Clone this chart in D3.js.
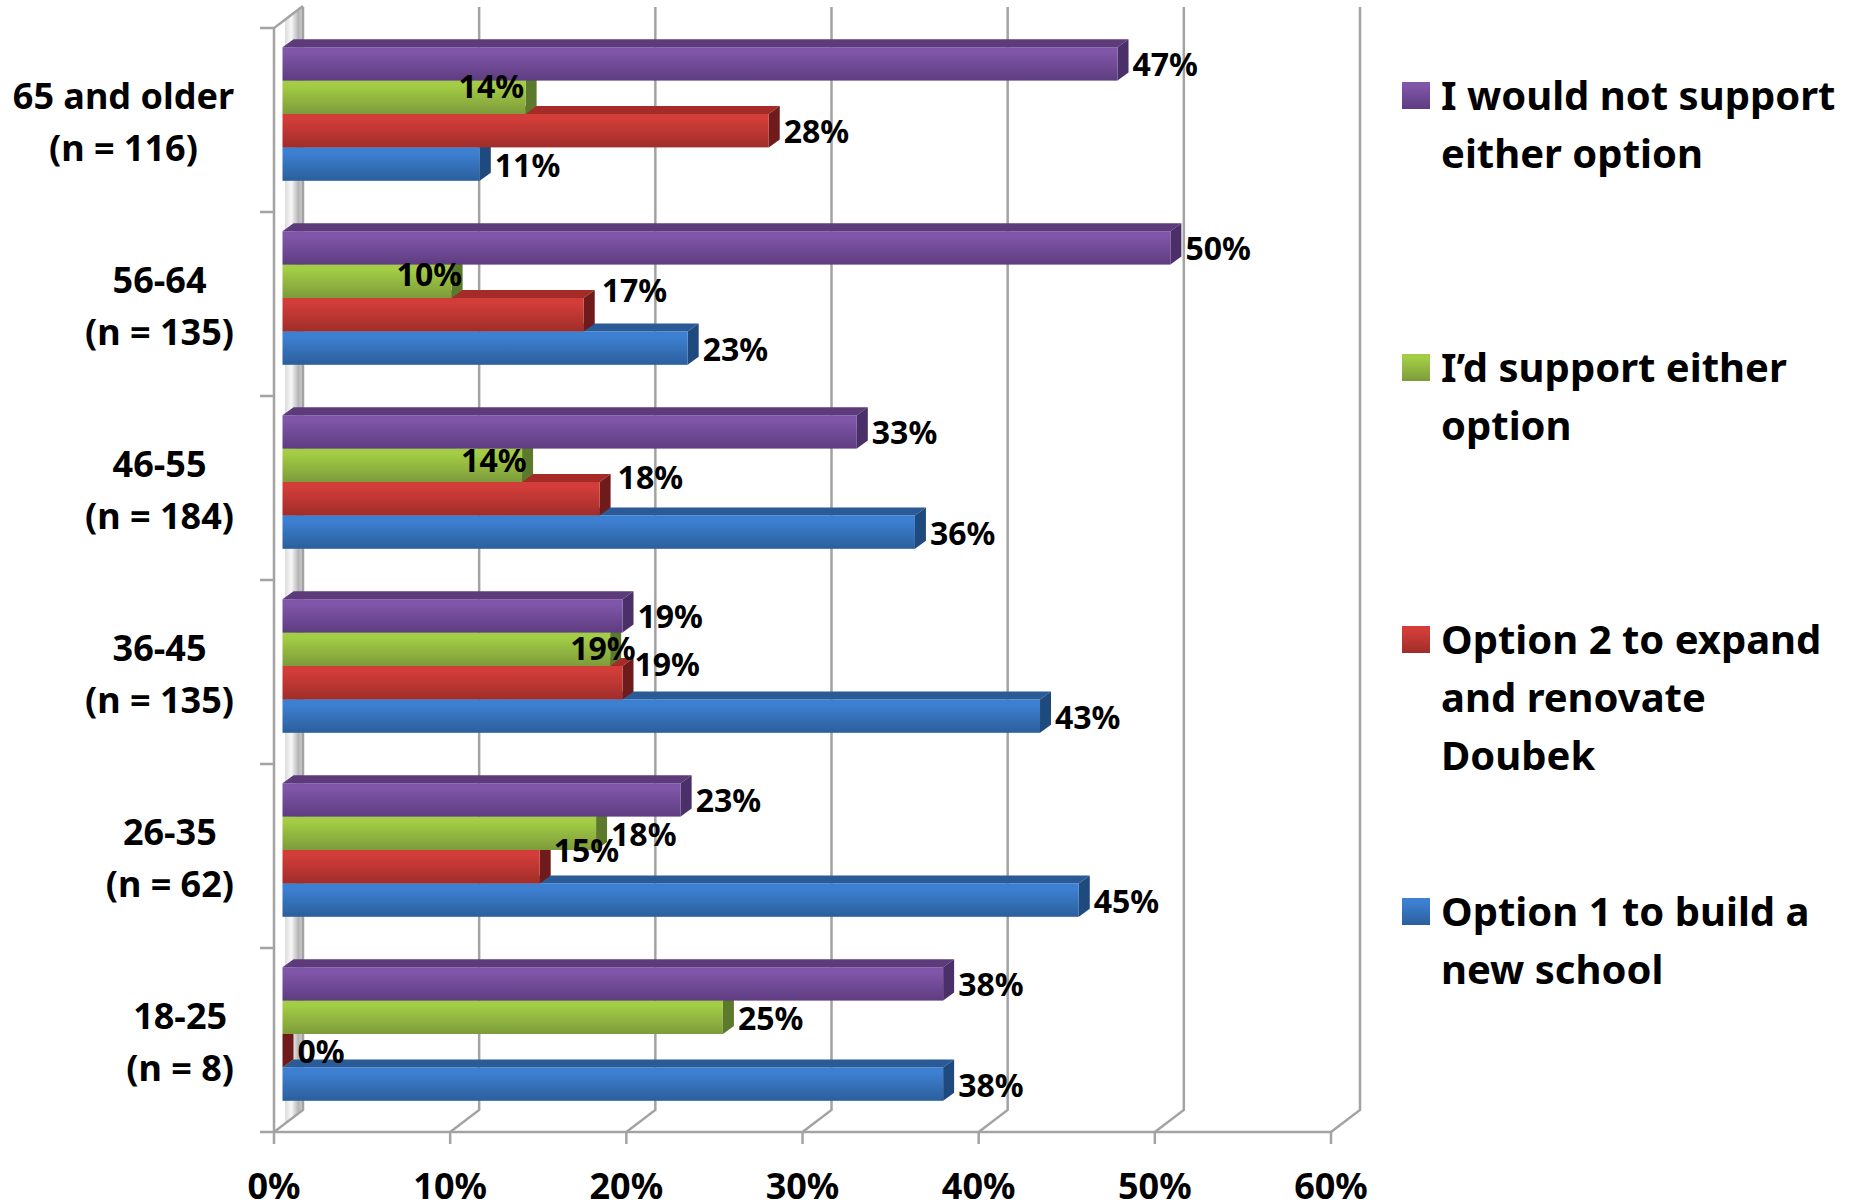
<!DOCTYPE html>
<html><head><meta charset="utf-8">
<script src="https://cdn.jsdelivr.net/npm/d3@7"></script>
<style>html,body{margin:0;padding:0;background:#fff}svg{display:block}
text{font-family:"Noto Sans",sans-serif;font-weight:700;fill:#000}</style></head>
<body><svg id="c" width="1858" height="1203"></svg>
<script>
const categories = ["65 and older","56-64","46-55","36-45","26-35","18-25"];
const categorySizes = ["(n = 116)","(n = 135)","(n = 184)","(n = 135)","(n = 62)","(n = 8)"];
const seriesNames = ["I would not support either option","I’d support either option","Option 2 to expand and renovate Doubek","Option 1 to build a new school"];
const notSupport = [47.4,50.4,32.6,19.3,22.6,37.5];
const eitherOption = [13.8,9.6,13.6,18.6,17.8,25.0];
const option2 = [27.6,17.1,18.0,19.3,14.6,0];
const option1 = [11.2,23.0,35.9,43.0,45.2,37.5];
const axisTicks = [0,10,20,30,40,50,60];
const legendLines = [["I would not support","either option"],["I’d support either","option"],["Option 2 to expand","and renovate","Doubek"],["Option 1 to build a","new school"]];

const allValues = [notSupport,eitherOption,option2,option1];
const palette = [
 {t:"#7f56a9",b:"#5e3c80",top:"#5d3b7b",side:"#4a2f68"},
 {t:"#a3cd45",b:"#7d9b3b",top:"#6a8a30",side:"#5c7a2b"},
 {t:"#d23d39",b:"#a02d2a",top:"#a52b28",side:"#701b1b"},
 {t:"#3d80d2",b:"#2b5f9c",top:"#2b5b97",side:"#1f4a7d"}];
// label nudges relative to the default place beside a bar [group, series, dx, dy]
const nudges = [[0,1,-82,-12],[1,1,-70,-8],[1,2,3,-25],[2,1,-76,-6],[2,2,3,-22],[3,1,-55,-2],[3,2,-3,-19],[4,2,-1,-17]];

const svg = d3.select("#c");
const defs = svg.append("defs");
palette.forEach((p,i)=>{
  const g = defs.append("linearGradient").attr("id","g"+i).attr("x1",0).attr("x2",0).attr("y1",0).attr("y2",1);
  g.append("stop").attr("offset","15%").attr("stop-color",p.t);
  g.append("stop").attr("offset","100%").attr("stop-color",p.b);
});
const wg = defs.append("linearGradient").attr("id","wall").attr("x1",0).attr("x2",1).attr("y1",0).attr("y2",0);
wg.append("stop").attr("offset","0%").attr("stop-color","#dcdcdc");
wg.append("stop").attr("offset","35%").attr("stop-color","#f8f8f8");
wg.append("stop").attr("offset","75%").attr("stop-color","#b4b4b4");
wg.append("stop").attr("offset","100%").attr("stop-color","#d4d4d4");

const X0 = 274, depthX = 29, depthY = 22, floorY = 1132, topY = 28;
const x = d3.scaleLinear().domain([0,60]).range([X0, X0+1057]);
const y = d3.scaleBand().domain(categories).range([topY, floorY]);
const gridColor = "#a3a3a3";

// side wall
svg.append("path").attr("d",`M${X0+11},${topY-8}L${X0+depthX},${topY-depthY}V${floorY-depthY}L${X0+11},${floorY-8}Z`).attr("fill","url(#wall)");

// gridlines on back wall and floor
const grid = svg.append("g").attr("stroke",gridColor).attr("stroke-width",2.5).attr("fill","none");
axisTicks.forEach(t=>{
  grid.append("path").attr("d",`M${x(t)},${floorY}L${x(t)+depthX},${floorY-depthY}V${topY-depthY+1}`);
});
grid.append("path").attr("d",`M${X0},${floorY}V${topY}L${X0+depthX},${topY-depthY}`);
grid.append("path").attr("d",`M${X0-14},${floorY}H${x(60)}`);
y.domain().forEach(c=>grid.append("path").attr("d",`M${X0-14},${y(c)}H${X0}`));
axisTicks.forEach(t=>grid.append("path").attr("d",`M${x(t)},${floorY}v12`));

// bars
const barH = 33.4, bx = 11, by = 8, barStart = 8.5, groupPad = 19.2;
const w = v => x(v)-x(0);
const bars = svg.append("g");
categories.forEach((c,gi)=>{
  for(let s=3;s>=0;s--){
    const v = allValues[s][gi], L = X0+barStart, R = L+w(v), T = y(c)+groupPad+s*barH, p = palette[s];
    const g = bars.append("g");
    g.append("path").attr("d",`M${L},${T}l${bx},${-by}H${R+bx}l${-bx},${by}Z`).attr("fill",p.top);
    g.append("path").attr("d",`M${R},${T}l${bx},${-by}v${barH}l${-bx},${by}Z`).attr("fill",p.side);
    if(v>0) g.append("rect").attr("x",L).attr("y",T).attr("width",R-L).attr("height",barH).attr("fill",`url(#g${s})`);
  }
});

// value labels
const labels = svg.append("g").attr("font-size",32);
categories.forEach((c,gi)=>{
  for(let s=0;s<4;s++){
    const v = allValues[s][gi], n = nudges.find(a=>a[0]===gi&&a[1]===s)||[0,0,0,0];
    const T = y(c)+groupPad+s*barH;
    labels.append("text").attr("x",X0+barStart+w(v)+bx+4+n[2]).attr("y",T+barH/2+n[3])
      .attr("dominant-baseline","central").text(d3.format(".0f")(v)+"%");
  }
});

// x tick labels
svg.append("g").attr("font-size",36).selectAll("text").data(axisTicks).join("text")
  .attr("x",d=>x(d)).attr("y",1185).attr("text-anchor","middle").attr("dominant-baseline","central").text(d=>d+"%");

// category labels
const catRight = 234, catLead = 54;
categories.forEach((c,i)=>{
  const g = svg.append("g").attr("font-size",36);
  const a = g.append("text").text(c).attr("text-anchor","middle");
  const b = g.append("text").text(categorySizes[i]).attr("text-anchor","middle");
  const mw = Math.max(a.node().getComputedTextLength(), b.node().getComputedTextLength());
  const cy = y(c)+y.bandwidth()/2+1, cx = catRight-mw/2;
  a.attr("x",cx).attr("y",cy-catLead/2+1).attr("dominant-baseline","central");
  b.attr("x",cx).attr("y",cy+catLead/2-1).attr("dominant-baseline","central");
});

// legend
const legendTop = [94,366,638,910], leg = svg.append("g").attr("font-size",40);
legendLines.forEach((lines,i)=>{
  leg.append("rect").attr("x",1402).attr("y",legendTop[i]-12).attr("width",28).attr("height",27).attr("fill",`url(#g${i})`);
  lines.forEach((l,j)=>leg.append("text").attr("x",1441).attr("y",legendTop[i]+j*58).attr("dominant-baseline","central").text(l));
});
</script></body></html>
